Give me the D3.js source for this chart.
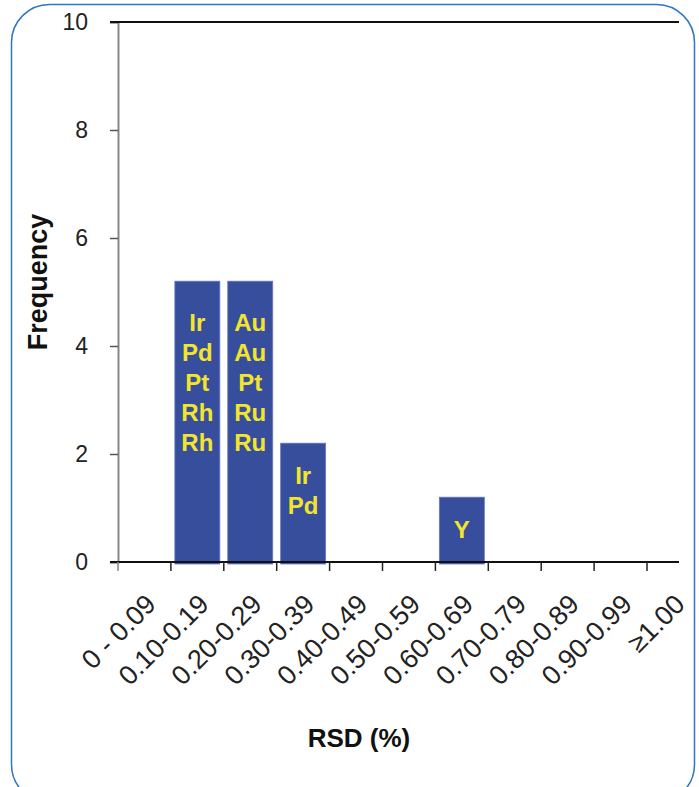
<!DOCTYPE html>
<html>
<head>
<meta charset="utf-8">
<script src="https://cdn.jsdelivr.net/npm/d3@7"></script>
<style>
html,body{margin:0;padding:0;background:#fff;}
svg{display:block;}
</style>
</head>
<body>
<svg id="chart" width="699" height="787"></svg>
<script>
const categories = ["0 - 0.09","0.10-0.19","0.20-0.29","0.30-0.39","0.40-0.49","0.50-0.59","0.60-0.69","0.70-0.79","0.80-0.89","0.90-0.99","\u22651.00"];
const frequency = [0, 5.2, 5.2, 2.2, 0, 0, 1.2, 0, 0, 0, 0];
const elements = [[], ["Ir","Pd","Pt","Rh","Rh"], ["Au","Au","Pt","Ru","Ru"], ["Ir","Pd"], [], [], ["Y"], [], [], [], []];
const yTicks = [0, 2, 4, 6, 8, 10];

const svg = d3.select("#chart");
const FONT = "Liberation Sans, Arial, sans-serif";

// frame
svg.append("rect").attr("x", 11.5).attr("y", 4.5).attr("width", 683).attr("height", 798)
  .attr("rx", 38).attr("ry", 38).attr("fill", "#fff").attr("stroke", "#2f76c2").attr("stroke-width", 1.5);

const x0 = 118, y0 = 562, yTop = 22, xEnd = 679;
const x = d3.scaleBand().domain(categories).range([x0, x0 + 11 * 52.9]).paddingInner(0.15).paddingOuter(0.075);
const y = d3.scaleLinear().domain([0, 10]).range([y0, yTop]);

// bars
svg.append("g").selectAll("rect").data(categories.filter((c, i) => frequency[i] > 0))
  .join("rect")
  .attr("x", c => x(c))
  .attr("y", c => y(frequency[categories.indexOf(c)]))
  .attr("width", x.bandwidth())
  .attr("height", c => y(0) - y(frequency[categories.indexOf(c)]) + 2)
  .attr("fill", "#374e9c")
  .attr("stroke", "#6677c4").attr("stroke-width", 0.8);

// bar labels
categories.forEach((c, i) => {
  const lines = elements[i];
  if (!lines.length) return;
  const top = y(frequency[i]);
  const first = top + (lines.length >= 5 ? 41 : 32);
  const g = svg.append("g");
  lines.forEach((t, k) => {
    g.append("text").attr("x", x(c) + x.bandwidth() / 2).attr("y", first + k * 30)
      .attr("dy", "0.36em").attr("text-anchor", "middle")
      .attr("font-family", FONT).attr("font-weight", "bold")
      .attr("font-size", 24).attr("fill", "#f2e52c").text(t);
  });
});

// y axis
const yAxis = d3.axisLeft(y).tickValues(yTicks).tickSize(8).tickPadding(22);
const gy = svg.append("g").attr("transform", `translate(${x0},0)`).call(yAxis);
gy.select(".domain").attr("stroke", "#888").attr("stroke-width", 2);
gy.selectAll(".tick line").attr("stroke", "#555").attr("stroke-width", 1.5);
gy.selectAll(".tick text").attr("font-family", FONT)
  .attr("font-size", 23).attr("fill", "#222").attr("font-weight", "normal");

// top line and bottom axis line
svg.append("line").attr("x1", 110).attr("x2", xEnd).attr("y1", y(10)).attr("y2", y(10))
  .attr("stroke", "#111").attr("stroke-width", 2);
svg.append("line").attr("x1", 110).attr("x2", xEnd).attr("y1", y(0)).attr("y2", y(0))
  .attr("stroke", "#111").attr("stroke-width", 2);

// x ticks at band boundaries
svg.append("g").selectAll("line").data(categories).join("line")
  .attr("x1", c => x(c) - x.step() * x.paddingInner() / 2)
  .attr("x2", c => x(c) - x.step() * x.paddingInner() / 2)
  .attr("y1", y0).attr("y2", y0 + 9)
  .attr("stroke", (c, i) => i === 0 ? "#888" : "#222").attr("stroke-width", 1.5);

// x tick labels
const xAxis = d3.axisBottom(x).tickSize(0).tickPadding(0);
const gx = svg.append("g").attr("transform", `translate(0,${y0})`).call(xAxis);
gx.select(".domain").remove();
gx.selectAll(".tick text")
  .attr("font-family", FONT).attr("font-size", 27).attr("fill", "#222")
  .attr("text-anchor", "end").attr("dy", 0).attr("y", 0)
  .attr("transform", "translate(13,44) rotate(-45)");

// axis titles
svg.append("text").attr("x", 359).attr("y", 747).attr("text-anchor", "middle")
  .attr("font-family", FONT).attr("font-weight", "bold")
  .attr("font-size", 26).attr("fill", "#111").text("RSD (%)");
svg.append("text").attr("transform", "translate(47,282) rotate(-90)").attr("text-anchor", "middle")
  .attr("font-family", FONT).attr("font-weight", "bold")
  .attr("font-size", 27).attr("fill", "#111").text("Frequency");
</script>
</body>
</html>
